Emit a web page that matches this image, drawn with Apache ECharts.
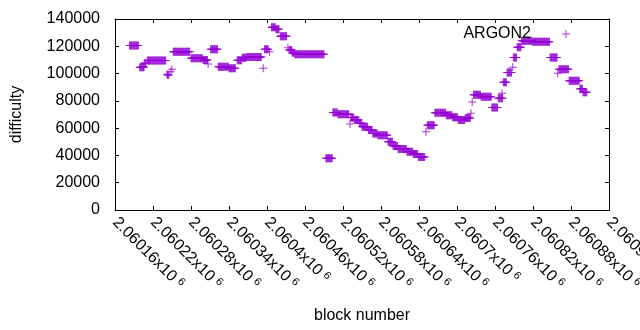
<!DOCTYPE html>
<html>
<head>
<meta charset="utf-8">
<script src="https://cdn.jsdelivr.net/npm/echarts@6/dist/echarts.min.js"></script>
<style>
  html, body { margin: 0; padding: 0; background: #fff; }
  #chart { width: 640px; height: 330px; }
</style>
</head>
<body>
<div id="chart"></div>
<script>
// runs of blocks sharing one difficulty value
const runFirst = [
  2060183, 2060199, 2060207, 2060211, 2060242, 2060243, 2060248, 2060250, 2060252, 2060280,
  2060299, 2060307, 2060311, 2060323, 2060340, 2060353, 2060361, 2060368, 2060394, 2060396,
  2060404, 2060407, 2060414, 2060421, 2060433, 2060435, 2060440, 2060444, 2060493, 2060504,
  2060512, 2060531, 2060532, 2060538, 2060546, 2060550, 2060560, 2060567, 2060575, 2060591,
  2060599, 2060607, 2060621, 2060631, 2060639, 2060651, 2060653, 2060665, 2060683, 2060693,
  2060702, 2060713, 2060722, 2060724, 2060726, 2060738, 2060755, 2060765, 2060771, 2060773,
  2060779, 2060788, 2060789, 2060795, 2060802, 2060819, 2060847, 2060859, 2060861, 2060877,
  2060894, 2060899
]
const runLast = [
  2060197, 2060206, 2060209, 2060240, 2060242, 2060245, 2060248, 2060250, 2060278, 2060298,
  2060306, 2060307, 2060322, 2060339, 2060350, 2060360, 2060367, 2060391, 2060394, 2060402,
  2060404, 2060413, 2060419, 2060431, 2060433, 2060439, 2060443, 2060490, 2060503, 2060511,
  2060529, 2060531, 2060537, 2060545, 2060549, 2060559, 2060566, 2060574, 2060590, 2060598,
  2060606, 2060620, 2060630, 2060638, 2060649, 2060651, 2060664, 2060682, 2060692, 2060701,
  2060712, 2060721, 2060722, 2060724, 2060737, 2060754, 2060764, 2060772, 2060771, 2060778,
  2060786, 2060788, 2060794, 2060801, 2060818, 2060846, 2060858, 2060859, 2060876, 2060893,
  2060898, 2060905
]
const runDifficulty = [
  120500, 104600, 107800, 109500, 99500, 99000, 101400, 103100, 116000, 111200,
  110000, 107000, 117800, 105000, 103900, 109700, 111600, 112100, 103900, 117800,
  116000, 133900, 132400, 127300, 119000, 117300, 115300, 114100, 37900, 71500,
  70100, 63000, 67800, 66000, 63800, 61000, 58600, 56000, 54800, 50100,
  46900, 44700, 42700, 41000, 38800, 57400, 62100, 71300, 69500, 68000,
  66000, 67400, 71000, 79200, 84400, 83000, 75100, 81900, 85500, 93600,
  100800, 104600, 111800, 119300, 124100, 123400, 111800, 100200, 103100, 94800,
  88900, 86300
]

const xMin = 2060160, xMax = 2060940, xStep = 60
const yMin = 0, yMax = 140000, yStep = 20000

const plus = 'path://M0,3.5H8V4.5H0ZM3.5,0H4.5V8H3.5Z'
const font = 'Liberation Sans, Arial, sans-serif'

// one point per block
let points = []
runFirst.forEach((first, i) => {
  for (let b = first; b <= runLast[i]; b++) points.push([b, runDifficulty[i]])
})

let myChart = echarts.init(document.getElementById('chart'))

let tick = { show: true, inside: true, length: 4, lineStyle: { color: '#000' } }
let line = { show: true, onZero: false, lineStyle: { color: '#000', width: 1 } }

let option = {
  animation: false,
  textStyle: { fontFamily: font },
  grid: { left: 115, right: 31, top: 19, bottom: 120, containLabel: false, outerBoundsMode: 'none' },
  legend: {
    data: ['ARGON2'],
    right: 65,
    top: 21,
    align: 'right',
    icon: plus,
    itemWidth: 8,
    itemHeight: 8,
    textStyle: { fontSize: 16, color: '#000', fontFamily: font, padding: [0, 26, 0, 0] }
  },
  xAxis: [{
    type: 'value',
    min: xMin, max: xMax, interval: xStep,
    name: 'block number',
    nameLocation: 'middle',
    nameGap: 98,
    nameTextStyle: { fontSize: 16, color: '#000' },
    axisLine: line,
    axisTick: tick,
    splitLine: { show: false },
    axisLabel: {
      rotate: -45,
      margin: 10,
      color: '#000',
      formatter: v => `{m|${+(v / 1e6).toFixed(5)}x10}{e|6}`,
      rich: {
        m: { fontSize: 16, fontFamily: font, color: '#000' },
        e: { fontSize: 11, fontFamily: font, color: '#000', padding: [0, 0, 6, 4] }
      }
    }
  }, {
    type: 'value', position: 'top',
    min: xMin, max: xMax, interval: xStep,
    axisLine: line, axisTick: tick,
    axisLabel: { show: false }, splitLine: { show: false }
  }],
  yAxis: [{
    type: 'value',
    min: yMin, max: yMax, interval: yStep,
    name: 'difficulty',
    nameLocation: 'middle',
    nameGap: 90,
    nameTextStyle: { fontSize: 16, color: '#000' },
    axisLine: line,
    axisTick: tick,
    splitLine: { show: false },
    axisLabel: { fontSize: 16, color: '#000', margin: 15, formatter: v => String(v) }
  }, {
    type: 'value', position: 'right',
    min: yMin, max: yMax, interval: yStep,
    axisLine: line, axisTick: tick,
    axisLabel: { show: false }, splitLine: { show: false }
  }],
  series: [{
    name: 'ARGON2',
    type: 'scatter',
    symbol: plus,
    symbolSize: 8,
    itemStyle: { color: '#9400d3' },
    data: points
  }]
}

myChart.setOption(option)
</script>
</body>
</html>
